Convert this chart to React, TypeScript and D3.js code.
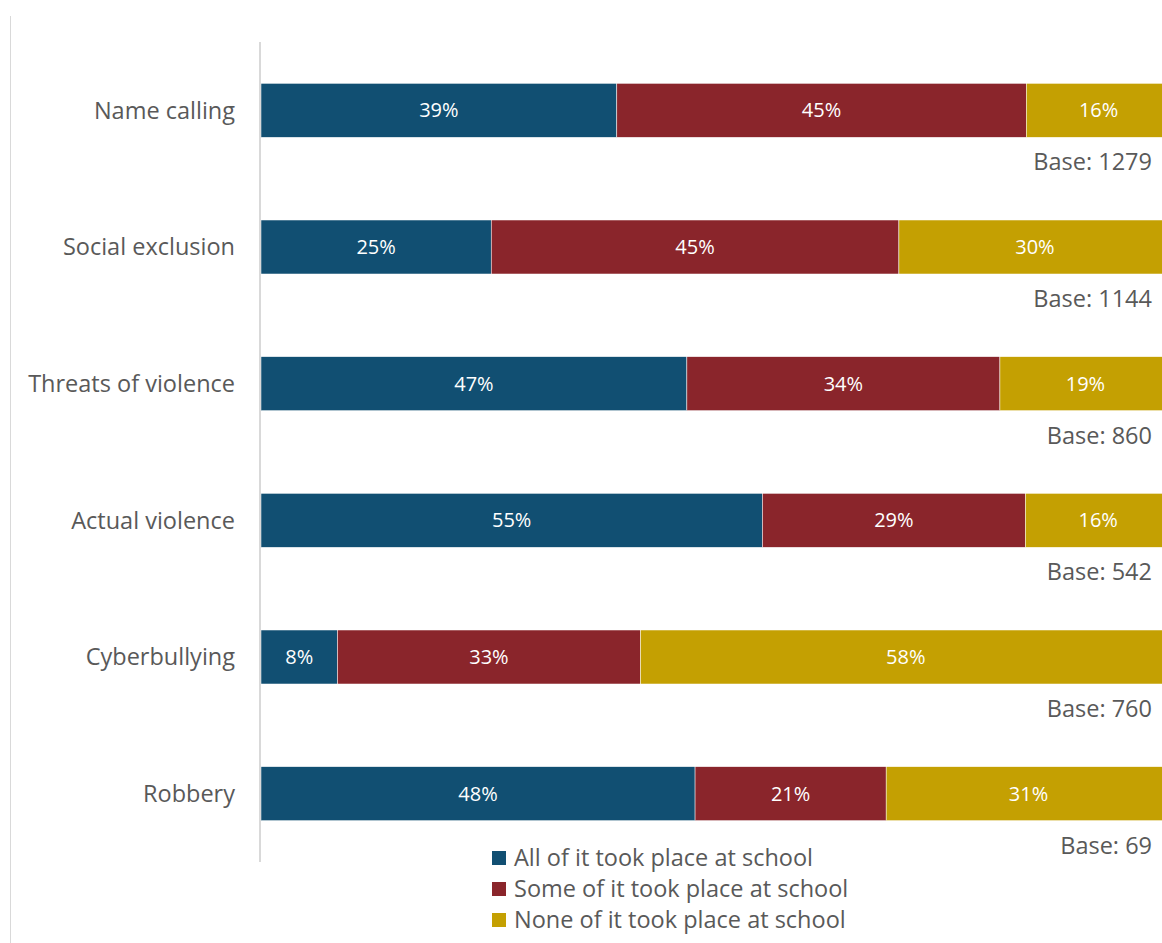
import React from "react";
import * as d3 from "d3";

const categories = ["Name calling", "Social exclusion", "Threats of violence", "Actual violence", "Cyberbullying", "Robbery"];
const allAtSchool = [39.1, 25.3, 46.8, 55.1, 8.4, 47.7];
const someAtSchool = [45.0, 44.8, 34.4, 28.9, 33.3, 21.0];
const noneAtSchool = [15.9, 29.9, 18.8, 16.0, 58.3, 31.3];
const bases = [1279, 1144, 860, 542, 760, 69];
const seriesNames = ["All of it took place at school", "Some of it took place at school", "None of it took place at school"];
const seriesColors = ["#114F72", "#8A252B", "#C4A002"];

const W = 1162;
const H = 943;
const FONT = "'Open Sans', 'Noto Sans', sans-serif";
const TEXT = "#595959";

export default function App() {
  const y = d3.scaleBand<string>().domain(categories).range([42, 862]).paddingInner(0.605).paddingOuter(0.3025);
  const x = d3.scaleLinear().domain([0, 100]).range([261, 1171]);
  const rows = categories.map((c, i) => ({ c, vals: [allAtSchool[i], someAtSchool[i], noneAtSchool[i]], base: bases[i] }));
  const stack = d3.stack<any>().keys(["0", "1", "2"]).value((d: any, k: string) => d.vals[+k]);
  const stacked = stack(rows);
  const bw = y.bandwidth();

  return (
    <svg width={W} height={H} style={{ position: "absolute", left: 0, top: 0, background: "#fff" }} fontFamily={FONT}>
      <line x1={10.5} x2={10.5} y1={16} y2={H} stroke="#d9d9d9" strokeWidth={1} />
      {stacked.map((s, si) => (
        <g key={si}>
          {s.map((d, i) => {
            const x0 = x(d[0]);
            const x1 = x(d[1]);
            const yy = y(categories[i])!;
            return (
              <g key={i}>
                <rect x={x0} y={yy} width={x1 - x0} height={bw} fill={seriesColors[si]} stroke="#fff" strokeWidth={0.5} />
                <text x={(x0 + x1) / 2} y={yy + bw / 2} dy="0.35em" textAnchor="middle" fill="#fff" fontSize={20}>
                  {Math.round(d[1] - d[0])}%
                </text>
              </g>
            );
          })}
        </g>
      ))}
      <line x1={260} x2={260} y1={42} y2={862} stroke="#d9d9d9" strokeWidth={2} />
      {rows.map((r, i) => (
        <g key={r.c}>
          <text x={235} y={y(r.c)! + bw / 2} dy="0.35em" textAnchor="end" fill={TEXT} fontSize={23.5}>
            {r.c}
          </text>
          <text x={1152} y={y(r.c)! + bw + 33} textAnchor="end" fill={TEXT} fontSize={23.5}>
            Base: {r.base}
          </text>
        </g>
      ))}
      {seriesNames.map((n, i) => (
        <g key={n} transform={`translate(492, ${858 + i * 31})`}>
          <rect x={0} y={-7} width={14} height={14} fill={seriesColors[i]} />
          <text x={22} y={0} dy="0.35em" fill={TEXT} fontSize={23.5}>{n}</text>
        </g>
      ))}
    </svg>
  );
}
